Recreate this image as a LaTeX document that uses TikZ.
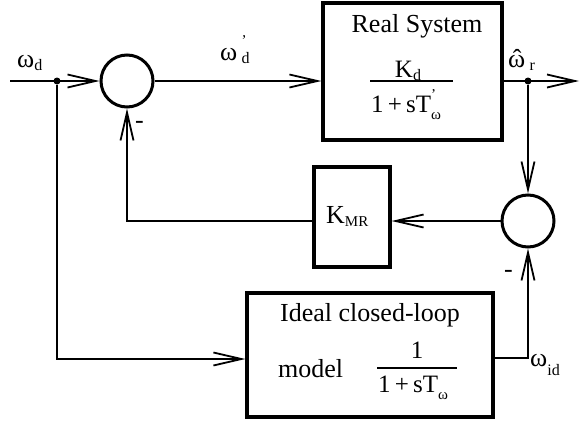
\documentclass[tikz,border=0pt]{standalone}
\usepackage{fontspec}
\setmainfont{Liberation Serif}
\usetikzlibrary{arrows.meta}
\newcommand\mysub[1]{\raisebox{-0.15em}{\fontsize{16}{16}\selectfont #1}}
\newcommand\mysml[1]{{\fontsize{15}{15}\selectfont #1}}
\begin{document}
\begin{tikzpicture}[x=1pt,y=-1pt,
  conn/.style={line width=1.8pt},
  arr/.style={conn,-{Straight Barb[length=28pt,width=13pt]}},
  blk/.style={draw,line width=3.2pt,inner sep=0},
  sumc/.style={draw,circle,line width=3pt,minimum size=52pt,inner sep=0},
  lbl/.style={inner sep=0,anchor=base west,font=\fontsize{26}{26}\selectfont},
  flbl/.style={inner sep=0,anchor=base,font=\fontsize{25}{25}\selectfont},
  jdot/.style={circle,fill,inner sep=0,minimum size=7pt},
  fbar/.style={line width=1.5pt}]
\useasboundingbox (0,0) rectangle (580,420);
% blocks
\node[blk,minimum width=179pt,minimum height=137pt] (real) at (412.5,71.5) {};
\node[blk,minimum width=76pt,minimum height=100pt] (kmr) at (352,217) {};
\node[blk,minimum width=246pt,minimum height=124pt] (ideal) at (370,355) {};
\node[sumc] (s1) at (127,81) {};
\node[sumc] (s2) at (528,221) {};
\node[jdot] (j1) at (57,81) {};
\node[jdot] (j2) at (528,81) {};
\coordinate (in) at (10,81);
\coordinate (out) at (579,81);
% connectors
\draw[arr] (in) -- (s1.west);
\draw[arr] (s1.east) -- (real.west |- s1.east);
\draw[arr] (real.east |- j2) -- (out);
\draw[arr] (j2) -- (s2.north);
\draw[arr] (s2.west) -- (kmr.east |- s2.west);
\draw[arr] (kmr.west |- s2.west) -| (s1.south);
\draw[arr] (j1) |- ([yshift=-4pt]ideal.west);
\draw[arr] ([yshift=-3pt]ideal.east) -| (s2.south);
% signal labels
\node[lbl] (lwd) at (17,67) {ω\mysub{d}};
\node[lbl] (lwdp) at (220,60) {ω\,\rlap{\raisebox{0.55em}{\mysml{’}}}\mysub{d}};
\node[lbl] (lwr) at (508,67) {\rlap{\hspace{0.18em}ˆ}ω\,\mysub{r}};
\node[lbl] (lwid) at (530,366) {ω\raisebox{-0.35em}{\fontsize{16}{16}\selectfont id}};
\node[lbl] (ms1) at (135,128) {-};
\node[lbl] (ms2) at (504,277) {-};
% K_MR
\node[lbl] (lkmr) at (326,223) {K\raisebox{-0.15em}{\fontsize{15}{15}\selectfont MR}};
% real system text
\node[lbl,anchor=base] (lrs) at (417,33) {Real System};
\node[flbl] (lkd) at (408,77) {K\mysub{d}};
\draw[fbar] (370,81) -- (453,81);
\node[flbl] (lden1) at (406,112) {1\,+\,sT\rlap{\raisebox{0.5em}{\mysml{’}}}\raisebox{-0.3em}{\mysml{ω}}};
% ideal model text
\node[lbl,anchor=base] (lic) at (370,321) {Ideal closed-loop};
\node[lbl] (lmod) at (278,377) {model};
\node[flbl] (lnum) at (417,358) {1};
\draw[fbar] (377,368) -- (457,368);
\node[flbl] (lden2) at (413,392) {1\,+\,sT\raisebox{-0.3em}{\mysml{ω}}};
\end{tikzpicture}
\end{document}
